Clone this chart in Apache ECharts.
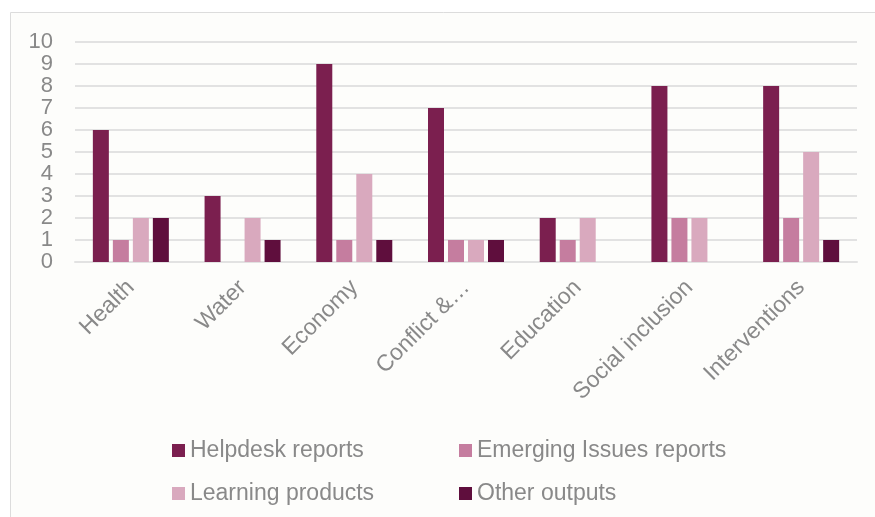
<!DOCTYPE html>
<html>
<head>
<meta charset="utf-8">
<script src="https://cdn.jsdelivr.net/npm/echarts@6/dist/echarts.min.js"></script>
<style>
  html, body { margin: 0; padding: 0; background: #ffffff; }
  #chart { width: 875px; height: 517px; }
</style>
</head>
<body>
<div id="chart"></div>
<script>
// Outputs per theme, by output type
const categories = ['Health', 'Water', 'Economy', 'Conflict &…', 'Education', 'Social inclusion', 'Interventions'];
const seriesNames = ['Helpdesk reports', 'Emerging Issues reports', 'Learning products', 'Other outputs'];
const helpdesk = [6, 3, 9, 7, 2, 8, 8];
const emerging = [1, 0, 1, 1, 1, 2, 2];
const learning = [2, 2, 4, 1, 2, 2, 5];
const other = [2, 1, 1, 1, 0, 0, 1];
const yTicks = [0, 1, 2, 3, 4, 5, 6, 7, 8, 9, 10];

const colors = ['#7b1f4f', '#c57d9f', '#d9a9be', '#5f0e3d'];
const values = [helpdesk, emerging, learning, other];
const font = '"Liberation Sans", Arial, sans-serif';
const grey = '#898989';

const chart = echarts.init(document.getElementById('chart'), null, { renderer: 'canvas' });

// legend laid out as a 2 x 2 grid
const legendPos = [
  { left: 172, top: 439 },
  { left: 459, top: 439 },
  { left: 172, top: 482 },
  { left: 459, top: 482 }
];

chart.setOption({
  animation: false,
  backgroundColor: '#ffffff',
  graphic: [{
    type: 'rect',
    z: -10,
    shape: { x: 10.5, y: 12.5, width: 900, height: 520 },
    style: { fill: '#fdfdfb', stroke: '#dcdcdc', lineWidth: 1 }
  }],
  grid: { left: 75, right: 18, top: 42, bottom: 255, containLabel: false },
  legend: seriesNames.map((name, i) => ({
    data: [name],
    left: legendPos[i].left,
    top: legendPos[i].top,
    icon: 'rect',
    itemWidth: 13,
    itemHeight: 13,
    padding: 0,
    selectedMode: false,
    textStyle: { color: grey, fontSize: 23, fontFamily: font, padding: [0, 0, 0, 0] }
  })),
  xAxis: {
    type: 'category',
    data: categories,
    axisLine: { show: true, lineStyle: { color: '#e2e2e2', width: 2 } },
    axisTick: { show: false },
    axisLabel: { rotate: 45, color: grey, fontSize: 23, fontFamily: font, margin: 22, interval: 0 }
  },
  yAxis: {
    type: 'value',
    min: yTicks[0],
    max: yTicks[yTicks.length - 1],
    interval: 1,
    axisLine: { show: false },
    axisTick: { show: false },
    splitLine: { lineStyle: { color: '#e2e2e2', width: 2 } },
    axisLabel: { color: grey, fontSize: 22, fontFamily: font, margin: 22 }
  },
  series: seriesNames.map((name, i) => ({
    name: name,
    type: 'bar',
    data: values[i],
    barWidth: 16,
    barGap: '25%',
    itemStyle: { color: colors[i] }
  }))
});
</script>
</body>
</html>
